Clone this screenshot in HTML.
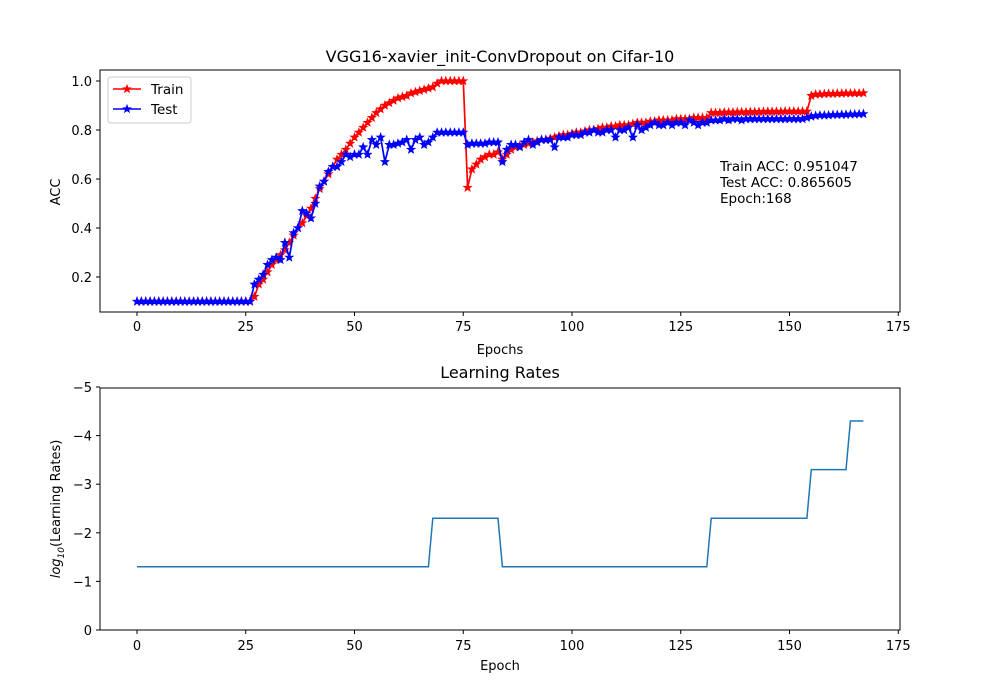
<!DOCTYPE html>
<html><head><meta charset="utf-8">
<style>
body{margin:0;background:#fff;}
svg{display:block;font-family:"DejaVu Sans","Liberation Sans",sans-serif;}
</style></head>
<body>
<svg id="chart" width="1000" height="700" viewBox="0 0 1000 700"></svg>
<script>
const epochs = Array.from({length:168},(_, i)=>i);
const trainAcc = [
0.10,0.10,0.10,0.10,0.10,0.10,0.10,0.10,0.10,0.10,0.10,0.10,0.10,0.10,0.10,0.10,0.10,0.10,0.10,0.10,0.10,0.10,0.10,0.10,0.10,0.10,0.10,
0.12,0.17,0.19,0.22,0.25,0.27,0.29,0.31,0.34,0.37,0.40,0.42,0.45,0.48,0.52,0.56,0.59,0.62,0.65,0.68,0.70,0.72,0.745,0.77,
0.79,0.81,0.83,0.85,0.87,0.885,0.90,0.91,0.92,0.93,0.935,0.94,0.95,0.955,0.96,0.965,0.97,0.975,0.99,1.0,1.0,1.0,1.0,1.0,1.0,
0.565,0.64,0.66,0.68,0.69,0.70,0.70,0.71,0.68,0.70,0.72,0.73,0.735,0.74,0.745,0.75,0.755,0.76,0.76,0.765,0.77,0.775,0.78,0.78,
0.785,0.79,0.79,0.795,0.80,0.80,0.805,0.81,0.81,0.815,0.815,0.82,0.82,0.82,0.825,0.83,0.83,0.83,0.835,0.835,0.84,0.84,0.84,0.84,0.845,0.845,0.845,0.845,0.85,0.85,0.85,0.85,
0.87,0.87,0.87,0.872,0.872,0.872,0.873,0.873,0.873,0.874,0.874,0.874,0.875,0.875,0.875,0.875,0.875,0.876,0.876,0.876,0.876,0.876,0.876,
0.94,0.945,0.946,0.947,0.948,0.948,0.949,0.949,0.95,0.95,0.95,0.95,0.951];
const testAcc = [
0.10,0.10,0.10,0.10,0.10,0.10,0.10,0.10,0.10,0.10,0.10,0.10,0.10,0.10,0.10,0.10,0.10,0.10,0.10,0.10,0.10,0.10,0.10,0.10,0.10,0.10,0.10,
0.17,0.19,0.21,0.25,0.27,0.28,0.27,0.34,0.28,0.38,0.40,0.47,0.46,0.44,0.50,0.57,0.59,0.63,0.65,0.65,0.67,0.70,0.69,0.70,
0.70,0.73,0.70,0.76,0.74,0.77,0.67,0.74,0.74,0.745,0.75,0.76,0.72,0.76,0.77,0.74,0.75,0.77,0.79,0.79,0.79,0.79,0.79,0.79,0.79,
0.74,0.745,0.745,0.745,0.745,0.75,0.75,0.75,0.67,0.72,0.74,0.74,0.73,0.75,0.76,0.74,0.75,0.76,0.76,0.76,0.73,0.77,0.77,0.77,
0.78,0.78,0.78,0.79,0.79,0.80,0.79,0.79,0.80,0.80,0.77,0.80,0.80,0.81,0.77,0.82,0.80,0.81,0.82,0.83,0.82,0.82,0.83,0.82,0.83,0.83,0.82,0.84,0.83,0.82,0.83,0.83,
0.84,0.84,0.84,0.845,0.84,0.845,0.845,0.84,0.845,0.845,0.845,0.845,0.845,0.845,0.845,0.845,0.845,0.845,0.845,0.845,0.845,0.845,0.85,
0.855,0.858,0.86,0.86,0.86,0.862,0.862,0.863,0.863,0.864,0.864,0.865,0.8656];
const lrSegments = [[0,67,-1.3],[68,83,-2.3],[84,131,-1.3],[132,154,-2.3],[155,163,-3.3],[164,167,-4.3]];
const xTicks = [0,25,50,75,100,125,150,175];
const accTicks = [0.2,0.4,0.6,0.8,1.0];
const lrTicks = [0,-1,-2,-3,-4,-5];
const lrLog = [];
for (const s of lrSegments) for (let e=s[0]; e<=s[1]; e++) lrLog.push(s[2]);

const NS="http://www.w3.org/2000/svg";
const svgEl=document.getElementById('chart');
function mk(tag,attrs,parent){const el=document.createElementNS(NS,tag);for(const k in attrs)el.setAttribute(k,attrs[k]);(parent||svgEl).appendChild(el);return el;}
const xS = e => 137 + e*4.35;
const yAcc = v => 81 + (1-v)*245;
const yLr = v => 630 + v*48.6;

function star(cx,cy,r,color,parent){
  let p=[];
  for(let i=0;i<10;i++){const a=-Math.PI/2+i*Math.PI/5;const rr=i%2?r*0.42:r;p.push((cx+rr*Math.cos(a)).toFixed(1)+','+(cy+rr*Math.sin(a)).toFixed(1));}
  return mk('polygon',{points:p.join(' '),fill:color,stroke:color,'stroke-width':0.8},parent);
}
function txt(x,y,s,attrs,parent){const t=mk('text',Object.assign({x:x,y:y,'font-size':14,fill:'#000'},attrs),parent);t.textContent=s;return t;}

// Top axes
const topG=mk('g',{});


const yA0=70,yA1=312;
for(const t of xTicks){const x=xS(t);mk('line',{x1:x,x2:x,y1:yA1,y2:yA1+4,stroke:'#000'},topG);const l=txt(x,yA1+19,String(t),{'text-anchor':'middle','font-size':13},topG);}
for(const t of accTicks){const y=yAcc(t);mk('line',{x1:96,x2:100,y1:y,y2:y,stroke:'#000'},topG);const l=txt(92,y+5,t.toFixed(1),{'text-anchor':'end','font-size':13},topG);}
function series(data,color,name){
  const g=mk('g',{},topG);
  
  
  mk('polyline',{points:data.map((v,i)=>xS(epochs[i]).toFixed(1)+','+yAcc(v).toFixed(1)).join(' '),fill:'none',stroke:color,'stroke-width':1.7},g);
  data.forEach((v,i)=>star(xS(epochs[i]),yAcc(v),4.2,color,g));
}
series(trainAcc,'#ff0000','train-series');
series(testAcc,'#0000ff','test-series');
mk('rect',{x:100,y:yA0,width:800,height:yA1-yA0,fill:'none',stroke:'#000','stroke-width':1},topG);
const t1=txt(500,62,'VGG16-xavier_init-ConvDropout on Cifar-10',{'text-anchor':'middle','font-size':16},topG);

const xl1=txt(500,354,'Epochs',{'text-anchor':'middle','font-size':13},topG);

const yl1=txt(0,0,'ACC',{'text-anchor':'middle','font-size':13,transform:'translate(60,192) rotate(-90)'},topG);

const ann=mk('g',{},topG);

txt(720,171,'Train ACC: 0.951047',{'font-size':13.5},ann);
txt(720,187,'Test ACC: 0.865605',{'font-size':13.5},ann);
txt(720,203,'Epoch:168',{'font-size':13.5},ann);
// legend
const lg=mk('g',{},topG);

mk('rect',{x:108,y:77,width:83,height:46,rx:3,fill:'#fff',stroke:'#ccc'},lg);
const le1=mk('g',{},lg);
mk('line',{x1:113,x2:141,y1:89,y2:89,stroke:'#ff0000','stroke-width':1.5},le1);star(127,89,4,'#ff0000',le1);txt(151,94,'Train',{'font-size':13.5},le1);
const le2=mk('g',{},lg);
mk('line',{x1:113,x2:141,y1:109,y2:109,stroke:'#0000ff','stroke-width':1.5},le2);star(127,109,4,'#0000ff',le2);txt(151,114,'Test',{'font-size':13.5},le2);

// Bottom axes
const botG=mk('g',{});


for(const t of xTicks){const x=xS(t);mk('line',{x1:x,x2:x,y1:630,y2:634,stroke:'#000'},botG);const l=txt(x,650,String(t),{'text-anchor':'middle','font-size':13},botG);}
for(const t of lrTicks){const y=yLr(t);mk('line',{x1:96,x2:100,y1:y,y2:y,stroke:'#000'},botG);const l=txt(92,y+5,t===0?'0':'\u2212'+(-t),{'text-anchor':'end','font-size':13},botG);}
const lrLine=mk('polyline',{points:lrLog.map((v,i)=>xS(epochs[i]).toFixed(1)+','+yLr(v).toFixed(1)).join(' '),fill:'none',stroke:'#1f77b4','stroke-width':1.5},botG);

mk('rect',{x:100,y:388,width:800,height:242,fill:'none',stroke:'#000','stroke-width':1},botG);
const t2=txt(500,378,'Learning Rates',{'text-anchor':'middle','font-size':16},botG);

const xl2=txt(500,670,'Epoch',{'text-anchor':'middle','font-size':13},botG);

const yl2=mk('text',{'text-anchor':'middle','font-size':13,transform:'translate(60,509) rotate(-90)'},botG);

const ts1=mk('tspan',{'font-style':'italic'},yl2);ts1.textContent='log';
const ts2=mk('tspan',{'font-style':'italic','font-size':9,dy:4},yl2);ts2.textContent='10';
const ts3=mk('tspan',{dy:-4},yl2);ts3.textContent='(Learning Rates)';
</script>
</body></html>
